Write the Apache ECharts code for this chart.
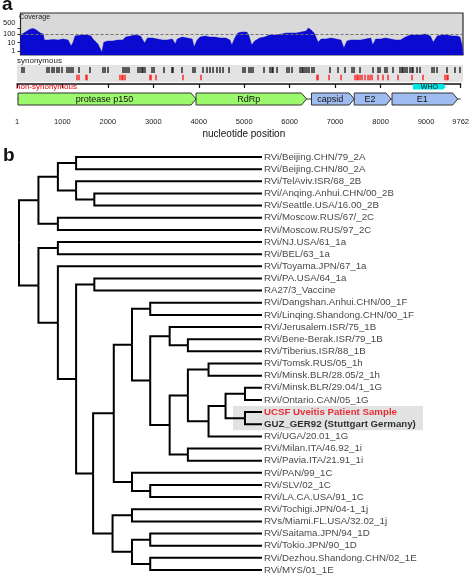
<!DOCTYPE html>
<html><head><meta charset="utf-8">
<script src="https://cdn.jsdelivr.net/npm/echarts@6/dist/echarts.min.js"></script>
<style>html,body{margin:0;padding:0;background:#fff}#c{width:472px;height:575px}</style>
</head><body><div id="c"></div>
<script>
// ---------- panel a data ----------
const genomeLength = 9762;
const ntTicks = [1, 1000, 2000, 3000, 4000, 5000, 6000, 7000, 8000, 9000, 9762];
const coverageTicks = [1, 10, 100, 500];
const coverageThreshold = 100;
const coverageRange = [0.35, 29500];
const coveragePos = [
  1,110,219,285,350,438,504,526,614,723,
  832,942,1051,1117,1161,1205,1336,1467,1555,1599,
  1708,1796,1839,1927,2036,2146,2255,2321,2430,2540,
  2649,2737,2802,2912,3021,3131,3240,3350,3415,3459,
  3568,3678,3787,3831,3897,3962,4072,4181,4291,4400,
  4531,4619,4663,4728,4794,4881,4991,5035,5101,5166,
  5276,5385,5495,5648,5757,5867,5976,6085,6195,6304,
  6348,6413,6479,6567,6632,6742,6851,6961,7070,7136,
  7202,7289,7398,7508,7617,7727,7771,7836,7946,8055,
  8165,8274,8383,8493,8602,8712,8821,8931,9040,9106,
  9193,9303,9412,9521,9631,9696,9740,9762];
const coverageDepth = [
  76,172,387,444,296,131,100,20,20,23,
  20,26,20,3.9,11,58,76,76,58,26,
  6.7,0.76,11,15,15,20,20,44,58,76,
  58,8.7,34,34,26,20,20,26,6.7,26,
  44,34,26,3,20,44,58,44,44,34,
  34,20,5.1,34,131,172,172,76,5.1,15,
  34,44,76,76,100,131,131,131,172,225,
  508,296,131,11,26,26,34,26,20,2.3,
  15,20,20,20,26,34,5.1,26,26,34,
  26,20,20,44,76,76,76,100,58,11,
  58,76,76,58,58,44,5.1,0.35];
const synonymousPos = [110,154,658,701,767,811,876,920,986,1095,1139,1183,1227,1358,1599,1883,1927,1993,
  2321,2365,2408,2452,2649,2693,2737,2759,2802,2956,3000,3218,3393,3415,3612,3853,3897,4072,4159,4225,
  4291,4378,4444,4510,4641,4947,4991,5078,5122,5166,5407,5538,5582,5604,5692,5910,5954,6020,6195,6239,
  6261,6304,6348,6392,6457,6501,6851,7027,7180,7333,7377,7508,7793,7902,7946,8055,8099,8230,8383,8427,
  8449,8493,8537,8602,8646,8668,8756,8821,9084,9128,9193,9412,9587,9696];
const nonSynonymousPos = [1314,1358,1511,1533,2255,2299,2321,2365,2912,2934,3043,3634,4028,6567,6589,
  6830,7093,7398,7442,7464,7508,7552,7617,7683,7727,7771,7902,8011,8121,8340,8646,8887,9368,9412,9434];
const geneNames = ['protease p150', 'RdRp', 'capsid', 'E2', 'E1'];
const geneStart = [23, 3940, 6480, 7420, 8252];
const geneEnd = [3940, 6370, 7420, 8230, 9696];
const geneKind = ['nonstructural', 'nonstructural', 'structural', 'structural', 'structural'];
const regionNames = ['WHO'];
const regionStart = [8712];
const regionEnd = [9434];

// ---------- panel b data ----------
const leafNames = [
  'RVi/Beijing.CHN/79_2A','RVi/Beijing.CHN/80_2A','RVi/TelAviv.ISR/68_2B','RVi/Anqing.Anhui.CHN/00_2B',
  'RVi/Seattle.USA/16.00_2B','RVi/Moscow.RUS/67/_2C','RVi/Moscow.RUS/97_2C','RVi/NJ.USA/61_1a','RVi/BEL/63_1a',
  'RVi/Toyama.JPN/67_1a','RVi/PA.USA/64_1a','RA27/3_Vaccine','RVi/Dangshan.Anhui.CHN/00_1F',
  'RVi/Linqing.Shandong.CHN/00_1F','RVi/Jerusalem.ISR/75_1B','RVi/Bene-Berak.ISR/79_1B','RVi/Tiberius.ISR/88_1B',
  'RVi/Tomsk.RUS/05_1h','RVi/Minsk.BLR/28.05/2_1h','RVi/Minsk.BLR/29.04/1_1G','RVi/Ontario.CAN/05_1G',
  'UCSF Uveitis Patient Sample','GUZ_GER92 (Stuttgart Germany)','RVi/UGA/20.01_1G','RVi/Milan.ITA/46.92_1i',
  'RVi/Pavia.ITA/21.91_1i','RVi/PAN/99_1C','RVi/SLV/02_1C','RVi/LA.CA.USA/91_1C','RVi/Tochigi.JPN/04-1_1j',
  'RVs/Miami.FL.USA/32.02_1j','RVi/Saitama.JPN/94_1D','RVi/Tokio.JPN/90_1D','RVi/Dezhou.Shandong.CHN/02_1E',
  'RVi/MYS/01_1E'];
const leafParent = [3,3,4,5,5,6,6,8,8,9,11,11,15,15,17,18,18,21,21,24,24,25,25,22,26,26,27,28,28,30,30,32,32,33,33];
const nodeParent = [-1,0,1,2,2,4,1,0,7,7,9,10,10,12,13,14,14,16,17,16,19,20,20,22,23,23,19,13,27,12,29,29,31,31];
const nodeDepth = [0,8,16,23.5,23.5,31,16,8,16,16,23.5,31,30.5,39,46.5,54,54,62,69.5,62,69.5,78,78,85,93,93,69.5,46.5,54,38.5,46.5,46.5,54,54];
const leafDepth = 100;
const sampleLeaf = 'UCSF Uveitis Patient Sample';
const referenceLeaf = 'GUZ_GER92 (Stuttgart Germany)';

// ---------- build ----------
const FONT = 'Liberation Sans';
const BLUE = '#0a0ad0';
const lg = v => Math.log10(v);

const children = nodeDepth.map(() => []);
leafParent.forEach((p, i) => children[p].push({ leaf: i }));
nodeParent.forEach((p, i) => { if (p >= 0) children[p].push({ node: i }); });
const nodeY = [];
function yOf(c) { return c.leaf !== undefined ? c.leaf : nodeYOf(c.node); }
function nodeYOf(n) {
  if (nodeY[n] === undefined) {
    const ys = children[n].map(yOf);
    nodeY[n] = (Math.min(...ys) + Math.max(...ys)) / 2;
  }
  return nodeY[n];
}
const branches = [];
children.forEach((ch, n) => {
  const pd = nodeDepth[n], py = nodeYOf(n);
  ch.forEach(c => {
    const cy = yOf(c);
    const cd = c.leaf !== undefined ? leafDepth : nodeDepth[c.node];
    branches.push({ coords: [[pd, py], [pd, cy], [cd, cy]] });
  });
});
const hlIdx = [leafNames.indexOf(sampleLeaf), leafNames.indexOf(referenceLeaf)];

const chart = echarts.init(document.getElementById('c'), null, { width: 472, height: 575 });

const GENE_ROW = 15, REGION_ROW = 2.75;
function arrow(s, e, cy, h, tip) {
  return [[s, cy - h / 2], [e - tip, cy - h / 2], [e, cy], [e - tip, cy + h / 2], [s, cy + h / 2]];
}
const topTick = coverageTicks[coverageTicks.length - 1];

chart.setOption({
  animation: false,
  textStyle: { fontFamily: FONT },
  grid: [
    { left: 17, top: 13, width: 446, height: 42, show: true, backgroundColor: '#d9d9d9', borderColor: '#2a2a2a', borderWidth: 1.2 },
    { left: 17, top: 65, width: 446, height: 17, show: true, backgroundColor: '#e3e3e3', borderWidth: 0 },
    { left: 17, top: 84, width: 446, height: 28 },
    { left: 19, top: 157, width: 243, height: 413 }
  ],
  xAxis: [
    { type: 'value', gridIndex: 0, min: 1, max: genomeLength, show: false },
    { type: 'value', gridIndex: 1, min: 1, max: genomeLength, show: false },
    { type: 'value', gridIndex: 2, min: 1, max: genomeLength, position: 'bottom',
      axisLine: { show: true, lineStyle: { color: '#111', width: 1.5 } },
      axisTick: { show: true, customValues: ntTicks, length: 4, lineStyle: { color: '#111', width: 1.2 } },
      axisLabel: { customValues: ntTicks, fontSize: 7.5, color: '#222', margin: 6, fontFamily: FONT,
        formatter: v => String(v) },
      splitLine: { show: false },
      name: 'nucleotide position', nameLocation: 'middle', nameGap: 17,
      nameTextStyle: { fontSize: 10, color: '#111', fontFamily: FONT, padding: [0, 0, 0, 10] } },
    { type: 'value', gridIndex: 3, min: 0, max: leafDepth, show: false }
  ],
  yAxis: [
    { type: 'value', gridIndex: 0, min: lg(coverageRange[0]), max: lg(coverageRange[1]),
      axisLine: { show: false }, splitLine: { show: false },
      axisTick: { show: true, customValues: coverageTicks.map(lg), length: 3, lineStyle: { color: '#222' } },
      axisLabel: { customValues: coverageTicks.map(lg), fontSize: 7.5, color: '#222', margin: 5, fontFamily: FONT,
        hideOverlap: false,
        formatter: v => { const t = Math.round(Math.pow(10, v)); return t === topTick ? '{hi|' + t + '}' : String(t); },
        rich: { hi: { fontSize: 7.5, color: '#222', fontFamily: FONT, padding: [0, 0, 10, 0] } } } },
    { type: 'value', gridIndex: 1, min: 0, max: 1, show: false },
    { type: 'value', gridIndex: 2, min: 0, max: 28, inverse: true, show: false },
    { type: 'value', gridIndex: 3, min: 0, max: leafNames.length - 1, inverse: true, show: false }
  ],
  series: [
    { type: 'line', xAxisIndex: 0, yAxisIndex: 0, symbol: 'none', silent: true,
      data: coveragePos.map((p, i) => [p, lg(coverageDepth[i])]),
      lineStyle: { color: BLUE, width: 0.5 },
      areaStyle: { color: BLUE, opacity: 1, origin: 'start' },
      markLine: { symbol: 'none', silent: true, label: { show: false },
        lineStyle: { type: [3, 2], color: '#707070', width: 1 },
        data: [{ yAxis: lg(coverageThreshold) }] } },
    { type: 'scatter', xAxisIndex: 1, yAxisIndex: 1, silent: true, symbol: 'rect', symbolSize: [1.5, 6],
      itemStyle: { color: '#000' }, data: synonymousPos.map(p => [p, 0.7]) },
    { type: 'scatter', xAxisIndex: 1, yAxisIndex: 1, silent: true, symbol: 'rect', symbolSize: [1.5, 5.5],
      itemStyle: { color: '#ff0000' }, data: nonSynonymousPos.map(p => [p, 0.27]) },
    { type: 'line', xAxisIndex: 2, yAxisIndex: 2, symbol: 'none', silent: true, z: 1,
      lineStyle: { color: '#333', width: 1 }, data: [[1, GENE_ROW], [genomeLength, GENE_ROW]] },
    { type: 'custom', xAxisIndex: 2, yAxisIndex: 2, silent: true, z: 3,
      data: geneNames.map((n, i) => [geneStart[i], geneEnd[i], i]),
      renderItem: (params, api) => {
        const s = api.coord([api.value(0), GENE_ROW]);
        const e = api.coord([api.value(1), GENE_ROW]);
        const i = api.value(2);
        const fill = geneKind[i] === 'nonstructural' ? '#9cf86c' : '#9fbcf0';
        return { type: 'group', children: [
          { type: 'polygon', shape: { points: arrow(s[0], e[0], s[1], 12, 5) },
            style: { fill: fill, stroke: '#333', lineWidth: 1 } },
          { type: 'text', style: { text: geneNames[i], x: (s[0] + e[0] - 5) / 2, y: s[1] + 0.5,
            align: 'center', verticalAlign: 'middle', fontSize: 9, fontFamily: FONT, fill: '#111' } }
        ] };
      } },
    { type: 'custom', xAxisIndex: 2, yAxisIndex: 2, silent: true, z: 3,
      data: regionNames.map((n, i) => [regionStart[i], regionEnd[i], i]),
      renderItem: (params, api) => {
        const s = api.coord([api.value(0), REGION_ROW]);
        const e = api.coord([api.value(1), REGION_ROW]);
        return { type: 'group', children: [
          { type: 'polygon', shape: { points: arrow(s[0], e[0], s[1], 5.5, 2.5) }, style: { fill: '#00e6e6' } },
          { type: 'text', style: { text: regionNames[api.value(2)], x: (s[0] + e[0]) / 2, y: s[1] + 0.5,
            align: 'center', verticalAlign: 'middle', fontSize: 7, fontFamily: FONT, fill: '#111' } }
        ] };
      } },
    { type: 'custom', xAxisIndex: 3, yAxisIndex: 3, silent: true, z: 1, clip: false,
      data: [[hlIdx[0], hlIdx[1]]],
      renderItem: (params, api) => {
        const a = api.coord([leafDepth, api.value(0) - 0.5]);
        const b = api.coord([leafDepth, api.value(1) + 0.5]);
        return { type: 'rect', shape: { x: a[0] - 29, y: a[1], width: 190, height: b[1] - a[1] },
          style: { fill: '#e2e2e2' } };
      } },
    { type: 'lines', coordinateSystem: 'cartesian2d', xAxisIndex: 3, yAxisIndex: 3, polyline: true,
      silent: true, z: 3, lineStyle: { color: '#000', width: 2, opacity: 1 }, data: branches },
    { type: 'scatter', xAxisIndex: 3, yAxisIndex: 3, silent: true, symbolSize: 0, z: 4,
      data: leafNames.map((n, i) => {
        const item = { name: n, value: [leafDepth, i] };
        if (n === sampleLeaf) item.label = { color: '#e8000b', fontWeight: 'bold' };
        if (n === referenceLeaf) item.label = { color: '#000', fontWeight: 'bold' };
        return item;
      }),
      label: { show: true, position: 'right', distance: 2, formatter: '{b}', fontSize: 9.7,
        color: '#111', fontFamily: FONT } }
  ],
  graphic: [
    { type: 'text', x: 2, y: 4.5, style: { text: 'a', font: 'bold 19px "Liberation Sans"', fill: '#111', verticalAlign: 'middle' } },
    { type: 'text', x: 3, y: 155.5, style: { text: 'b', font: 'bold 19px "Liberation Sans"', fill: '#111', verticalAlign: 'middle' } },
    { type: 'text', x: 19, y: 17.5, z: 10, style: { text: 'Coverage', font: '7.2px "Liberation Sans"', fill: '#222', verticalAlign: 'middle' } },
    { type: 'text', x: 17, y: 60.7, style: { text: 'synonymous', font: '8px "Liberation Sans"', fill: '#222', verticalAlign: 'middle' } },
    { type: 'text', x: 16, y: 86.5, z: 10, style: { text: 'non-synonymous', font: '8px "Liberation Sans"', fill: '#e8000b', verticalAlign: 'middle' } }
  ]
});
</script></body></html>
